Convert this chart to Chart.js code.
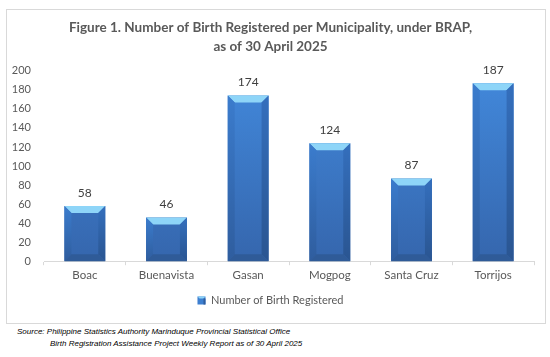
<!DOCTYPE html>
<html>
<head>
<meta charset="utf-8">
<script src="https://cdn.jsdelivr.net/npm/chart.js@4/dist/chart.umd.min.js"></script>
<style>
  html, body { margin: 0; padding: 0; background: #fff; width: 550px; height: 357px; overflow: hidden; }
  #box { position: absolute; left: 6px; top: 9px; width: 540px; height: 315px; box-sizing: border-box; border: 1px solid #d9d9d9; }
  #wrap { position: absolute; left: 0; top: 0; width: 538px; height: 313px; }
  .src { position: absolute; font-family: "Liberation Sans", Arial, sans-serif; font-style: italic; font-size: 8px; color: #000; white-space: nowrap; }
</style>
</head>
<body>
<div id="box"><div id="wrap"><canvas id="c"></canvas></div></div>
<div class="src" style="left:17px; top:327px;">Source: Philippine Statistics Authority Marinduque Provincial Statistical Office</div>
<div class="src" style="left:50px; top:339px;">Birth Registration Assistance Project Weekly Report as of 30 April 2025</div>
<script>
const categories = ["Boac", "Buenavista", "Gasan", "Mogpog", "Santa Cruz", "Torrijos"];
const births = [58, 46, 174, 124, 87, 187];
const seriesName = "Number of Birth Registered";
const titleLines = ["Figure 1. Number of Birth Registered per Municipality, under BRAP,", "as of 30 April 2025"];

const TXT = "#595959";
const FONT = "Lato, 'Open Sans', sans-serif";

function frontGradient(ctx, area) {
  const g = ctx.createLinearGradient(0, area.top, 0, area.bottom);
  g.addColorStop(0, "#4289dc");
  g.addColorStop(1, "#3566ad");
  return g;
}

const bevelPlugin = {
  id: "bevel",
  afterDatasetsDraw(chart) {
    const ctx = chart.ctx;
    const meta = chart.getDatasetMeta(0);
    ctx.save();
    meta.data.forEach((bar) => {
      const w = bar.width;
      const L = bar.x - w / 2, R = bar.x + w / 2, T = bar.y, B = bar.base;
      const b = Math.min(7, (B - T) / 2);
      ctx.fillStyle = "#8ed5f8";
      ctx.beginPath();
      ctx.moveTo(L, T); ctx.lineTo(R, T); ctx.lineTo(R - b, T + b); ctx.lineTo(L + b, T + b); ctx.closePath(); ctx.fill();
      let g = ctx.createLinearGradient(0, T, 0, B);
      g.addColorStop(0, "#3b7ccd"); g.addColorStop(1, "#2f5d9e");
      ctx.fillStyle = g;
      ctx.beginPath();
      ctx.moveTo(L, T); ctx.lineTo(L + b, T + b); ctx.lineTo(L + b, B - b); ctx.lineTo(L, B); ctx.closePath(); ctx.fill();
      g = ctx.createLinearGradient(0, T, 0, B);
      g.addColorStop(0, "#346fbd"); g.addColorStop(1, "#2a5591");
      ctx.fillStyle = g;
      ctx.beginPath();
      ctx.moveTo(R, T); ctx.lineTo(R - b, T + b); ctx.lineTo(R - b, B - b); ctx.lineTo(R, B); ctx.closePath(); ctx.fill();
      ctx.fillStyle = "#2f5b98";
      ctx.beginPath();
      ctx.moveTo(L, B); ctx.lineTo(L + b, B - b); ctx.lineTo(R - b, B - b); ctx.lineTo(R, B); ctx.closePath(); ctx.fill();
    });
    ctx.restore();
  }
};

const labelPlugin = {
  id: "valueLabels",
  afterDatasetsDraw(chart) {
    const ctx = chart.ctx;
    const meta = chart.getDatasetMeta(0);
    ctx.save();
    ctx.fillStyle = "#404040";
    ctx.font = "12px " + FONT;
    ctx.textAlign = "center";
    ctx.textBaseline = "middle";
    meta.data.forEach((bar, i) => {
      ctx.fillText(String(births[i]), bar.x, bar.y - 13);
    });
    ctx.restore();
  }
};

const legendIconPlugin = {
  id: "legendIcon",
  afterDraw(chart) {
    const lg = chart.legend;
    if (!lg || !lg.legendHitBoxes || !lg.legendHitBoxes.length) return;
    const hb = lg.legendHitBoxes[0];
    const ctx = chart.ctx;
    const s = 8, x = hb.left, y = hb.top + (hb.height - s) / 2;
    ctx.save();
    ctx.fillStyle = "#3d7fd0"; ctx.fillRect(x, y, s, s);
    ctx.fillStyle = "#8ed5f8";
    ctx.beginPath(); ctx.moveTo(x, y); ctx.lineTo(x + s, y); ctx.lineTo(x + s - 2, y + 2); ctx.lineTo(x + 2, y + 2); ctx.closePath(); ctx.fill();
    ctx.fillStyle = "#2f5d9e";
    ctx.fillRect(x + s - 2, y + 2, 2, s - 2);
    ctx.restore();
  }
};

new Chart(document.getElementById("c"), {
  type: "bar",
  data: {
    labels: categories,
    datasets: [{
      label: seriesName,
      data: births,
      backgroundColor: (c) => c.chart.chartArea ? frontGradient(c.chart.ctx, c.chart.chartArea) : "#3d7fd0",
      borderWidth: 0,
      categoryPercentage: 1.0,
      barPercentage: 0.5
    }]
  },
  options: {
    responsive: true,
    maintainAspectRatio: false,
    animation: false,
    layout: { padding: { top: 0, right: 11, bottom: 7, left: 0 } },
    plugins: {
      title: {
        display: true,
        text: titleLines,
        color: TXT,
        font: { family: FONT, size: 13.5, weight: "bold", lineHeight: 1.4 },
        padding: { top: 8, bottom: 15 }
      },
      legend: {
        display: true,
        position: "bottom",
        labels: {
          color: TXT,
          font: { family: FONT, size: 11 },
          boxWidth: 8, boxHeight: 8,
          padding: 10,
          generateLabels: () => [{ text: seriesName, fillStyle: "rgba(0,0,0,0)", strokeStyle: "rgba(0,0,0,0)", lineWidth: 0, datasetIndex: 0, fontColor: TXT }]
        }
      },
      tooltip: { enabled: false }
    },
    scales: {
      x: {
        grid: { display: true, offset: true, drawOnChartArea: false, drawTicks: true, tickLength: 4, color: "#d9d9d9" },
        border: { display: true, color: "#d9d9d9" },
        ticks: { color: TXT, font: { family: FONT, size: 11.5 }, padding: 3 }
      },
      y: {
        min: 0, max: 200,
        afterFit: (s) => { s.width = 37; },
        grid: { display: false },
        border: { display: false },
        ticks: { stepSize: 20, color: TXT, font: { family: FONT, size: 11 }, padding: 5 }
      }
    }
  },
  plugins: [bevelPlugin, labelPlugin, legendIconPlugin]
});
</script>
</body>
</html>
